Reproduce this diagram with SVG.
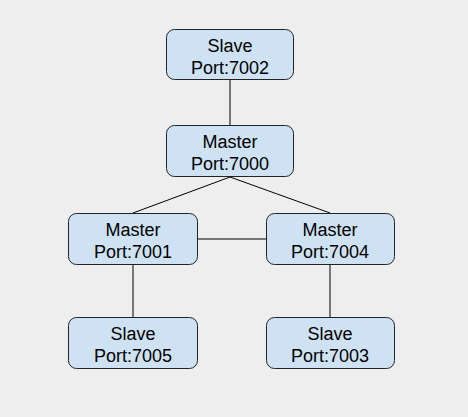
<svg xmlns="http://www.w3.org/2000/svg" width="468" height="417" viewBox="0 0 468 417">
<style>
.n rect{fill:#cfe2f3;stroke:#222;stroke-width:1}
.n text{font-family:"Liberation Sans",Arial,sans-serif;font-size:18px;fill:#000;text-anchor:middle}
.c line{stroke:#000;stroke-width:1}
</style>
<rect width="468" height="417" fill="#eeeeee"/>
<g class="c">
<line x1="230" y1="80" x2="230" y2="125"/>
<line x1="230" y1="177" x2="133" y2="213"/>
<line x1="230" y1="177" x2="330" y2="213"/>
<line x1="197" y1="239" x2="267" y2="239"/>
<line x1="133" y1="265" x2="133" y2="317"/>
<line x1="330" y1="265" x2="330" y2="317"/>
</g>
<g id="s7002" class="n"><rect x="166.5" y="29.5" width="127" height="50" rx="8"/><text x="230" y="52">Slave</text><text x="230" y="74">Port:7002</text></g>
<g id="m7000" class="n"><rect x="166.5" y="125.5" width="127" height="51" rx="8"/><text x="230" y="148">Master</text><text x="230" y="170">Port:7000</text></g>
<g id="m7001" class="n"><rect x="68.5" y="213.5" width="129" height="51" rx="8"/><text x="133" y="236">Master</text><text x="133" y="258">Port:7001</text></g>
<g id="m7004" class="n"><rect x="266.5" y="213.5" width="128" height="51" rx="8"/><text x="330" y="236">Master</text><text x="330" y="258">Port:7004</text></g>
<g id="s7005" class="n"><rect x="68.5" y="317.5" width="129" height="51" rx="8"/><text x="133" y="340">Slave</text><text x="133" y="362">Port:7005</text></g>
<g id="s7003" class="n"><rect x="266.5" y="317.5" width="128" height="51" rx="8"/><text x="330" y="340">Slave</text><text x="330" y="362">Port:7003</text></g>
</svg>
